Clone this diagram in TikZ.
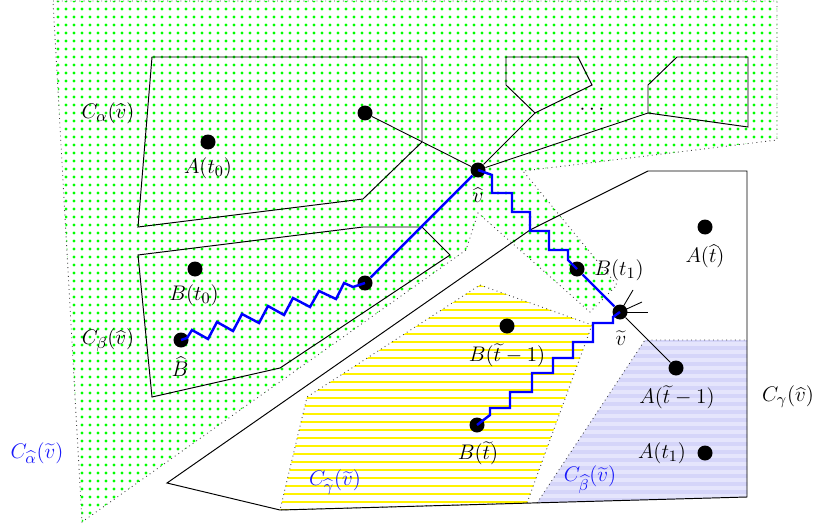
\documentclass[tikz,border=0pt]{standalone}
\definecolor{lab}{RGB}{25,25,250}
\definecolor{lavA}{RGB}{229,229,252}
\definecolor{lavB}{RGB}{213,213,249}
\definecolor{gdot}{RGB}{0,255,0}
\tikzset{
  dot/.style={circle,fill=black,inner sep=0pt,minimum size=0.3cm},
  thinline/.style={line width=0.5pt},
  poly/.style={line width=0.55pt,line join=miter},
  bluepath/.style={blue,line width=1.4pt,line join=miter},
  bnd/.style={dotted,line width=0.5pt,black!75},
  lbl/.style={inner sep=0pt,font=\fontsize{13}{15}\selectfont},
  blbl/.style={lbl,text=lab},
}
\begin{document}
\begin{tikzpicture}[x=0.02cm,y=-0.02cm]
\useasboundingbox (0,0) rectangle (820,527);
% green region
\begin{scope}
\clip (53,1) -- (777,1) -- (777,140) -- (523,171) -- (617,285) -- (590,312)
  -- (478,213) -- (466,250) -- (82,522) -- cycle;
\foreach \j in {0,...,65} {
  \foreach \i in {6,...,97} {
    \fill[gdot] (2+8*\i,1+8*\j) circle (1.6);
  }
}
\end{scope}
\draw[bnd] (53,1) -- (777,1) -- (777,140) -- (523,171) -- (617,285) -- (590,312)
  -- (478,213) -- (466,250) -- (82,522) -- cycle;
% yellow region
\begin{scope}
\clip (480,285) -- (592,325) -- (527,503) -- (280,510) -- (307,397) -- cycle;
\foreach \j in {35,...,63} {
  \draw[yellow,line width=1pt] (270,6.3+8*\j) -- (600,6.3+8*\j);
}
\end{scope}
\draw[bnd] (480,285) -- (592,325) -- (527,503) -- (280,510) -- (307,397) -- cycle;
% lavender region
\begin{scope}
\clip (645,340) -- (747,340) -- (747,497) -- (537,503) -- cycle;
\fill[lavA] (530,335) rectangle (750,510);
\foreach \j in {42,...,63} {
  \fill[lavB] (530,2+8*\j) rectangle (750,6+8*\j);
}
\end{scope}
\draw[bnd] (537,503) -- (645,340) -- (747,340);
% polygons
\draw[poly] (152,57) -- (422,57) -- (422,142) -- (363,199) -- (138,227) -- cycle;
\draw[poly] (138,255) -- (363,227) -- (422,227) -- (450,255) -- (280,368) -- (152,397) -- cycle;
\draw[poly] (506,57) -- (578,57) -- (592,85) -- (535,113) -- (506,85) -- cycle;
\draw[poly] (648,85) -- (677,57) -- (748,57) -- (748,127) -- (648,113) -- cycle;
\draw[poly] (167,483) -- (280,510) -- (747,497) -- (747,171) -- (648,171) -- (530,230) -- cycle;
\coordinate (pa) at (535,113);
\coordinate (pb) at (648,113);
\coordinate (s1) at (633,290);
\coordinate (s2) at (642,302);
\coordinate (s3) at (648,312);
% dots
\node[dot] (vh) at (478,170) {};
\node[dot] (a1) at (365,113) {};
\node[dot] (at0) at (208,142) {};
\node[dot] (bt0) at (195,269) {};
\node[dot] (bh) at (181,340) {};
\node[dot] (b1) at (365,283) {};
\node[dot] (bt1) at (577,269) {};
\node[dot] (vt) at (620,312) {};
\node[dot] (ath) at (705,227) {};
\node[dot] (btm) at (507,326) {};
\node[dot] (atm) at (676,368) {};
\node[dot] (at1) at (705,453) {};
\node[dot] (btt) at (477,425) {};
\node[font=\fontsize{12}{14}\selectfont] (dd) at (592,110) {$\cdots$};
% black edges
\draw[thinline] (vh) -- (a1);
\draw[thinline] (vh) -- (pa);
\draw[thinline] (vh) -- (pb);
\draw[thinline] (vt) -- (atm);
\draw[thinline] (vt.center) -- (s1);
\draw[thinline] (vt.center) -- (s2);
\draw[thinline] (vt.center) -- (s3);
% blue paths
\draw[bluepath] (vh) -- (b1);
\draw[bluepath] (vh.center) -- (492,175) -- (492,193) -- (512,193) -- (512,212) -- (530,212)
  -- (530,231) -- (549,231) -- (549,250) -- (568,250) -- (568,260) -- (bt1.center);
\draw[bluepath] (bt1) -- (vt);
\draw[bluepath] (vt.center) -- (613,317) -- (613,323) -- (593,323) -- (593,342) -- (573,342)
  -- (573,358) -- (553,358) -- (553,373) -- (532,373) -- (532,392) -- (510,392)
  -- (510,408) -- (490,408) -- (490,415) -- (btt.center);
\draw[bluepath] (bh.center) -- (187,338) -- (192,330) -- (208,339) -- (217,322) -- (233,331)
  -- (242,314) -- (259,323) -- (268,306) -- (284,315) -- (293,298) -- (310,307)
  -- (319,291) -- (336,299) -- (344,283) -- (353,287) -- (b1.center);
% labels
\node[lbl] (l1) at (108,113) {$C_\alpha(\widehat{v})$};
\node[lbl] (l2) at (208,168) {$A(t_0)$};
\node[lbl] (l3) at (108,340) {$C_\beta(\widehat{v})$};
\node[lbl] (l4) at (194,295) {$B(t_0)$};
\node[lbl] (l5) at (180,367) {$\widehat{B}$};
\node[lbl] (l6) at (478,195) {$\widehat{v}$};
\node[lbl] (l7) at (619,270) {$B(t_1)$};
\node[lbl] (l8) at (705,256) {$A(\widehat{t})$};
\node[lbl] (l9) at (507,355) {$B(\widetilde{t}-1)$};
\node[lbl] (l10) at (621,338) {$\widetilde{v}$};
\node[lbl] (l11) at (677,397) {$A(\widetilde{t}-1)$};
\node[lbl] (l12) at (788,397) {$C_\gamma(\widehat{v})$};
\node[lbl] (l13) at (478,453) {$B(\widetilde{t})$};
\node[lbl] (l14) at (662,453) {$A(t_1)$};
\node[blbl] (l15) at (37,453) {$C_{\widehat{\alpha}}(\widetilde{v})$};
\node[blbl] (l16) at (335,482) {$C_{\widehat{\gamma}}(\widetilde{v})$};
\node[blbl] (l17) at (590,480) {$C_{\widehat{\beta}}(\widetilde{v})$};
\end{tikzpicture}
\end{document}
